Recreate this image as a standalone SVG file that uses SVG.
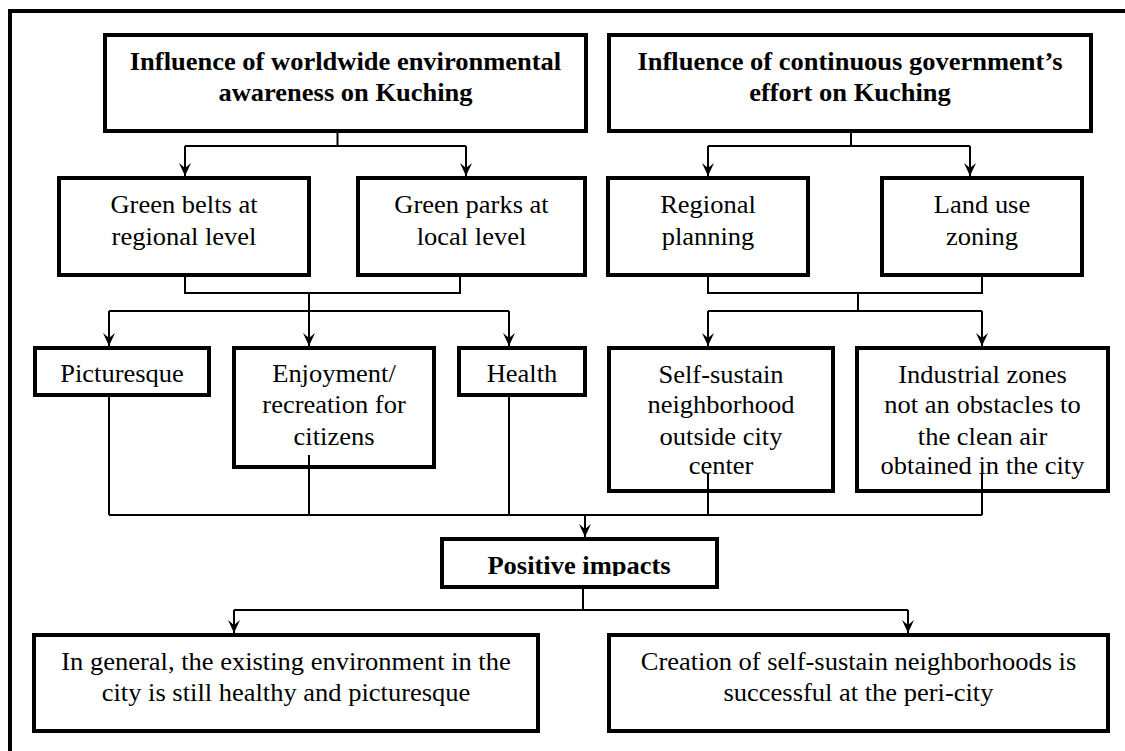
<svg xmlns="http://www.w3.org/2000/svg" width="1125" height="751" viewBox="0 0 1125 751">
<style>
.box{fill:#fff;stroke:#000;stroke-width:4}
.t{font-size:25px;fill:#000;text-anchor:middle}
.b{font-weight:bold}
.c{fill:none;stroke:#000;stroke-width:2}
.a{fill:none;stroke:#000;stroke-width:2;marker-end:url(#arr)}
</style>
<defs>
<marker id="arr" markerUnits="userSpaceOnUse" viewBox="-14 -7 14 14" refX="0" refY="0" markerWidth="14" markerHeight="14" orient="auto">
<path d="M0,0 L-13,-6 L-8,0 L-13,6 Z" fill="#000"/>
</marker>
<clipPath id="pclip"><rect x="442" y="539" width="275" height="37"/></clipPath>
</defs>
<rect x="0" y="0" width="1125" height="751" fill="#fff"/>
<path d="M10,751 V11 H1125" fill="none" stroke="#000" stroke-width="4"/>
<g font-family="Liberation Serif">
<g id="n-worldwide">
<rect class="box" x="105" y="35" width="481" height="96"/>
<text class="t b" font-family="Liberation Serif" transform="translate(345.5 0) scale(1.06 1)"><tspan x="0" y="70">Influence of worldwide environmental</tspan><tspan x="0" y="101">awareness on Kuching</tspan></text>
</g>
<g id="n-government">
<rect class="box" x="609" y="35" width="482" height="96"/>
<text class="t b" font-family="Liberation Serif" transform="translate(850 0) scale(1.06 1)"><tspan x="0" y="70">Influence of continuous government’s</tspan><tspan x="0" y="101">effort on Kuching</tspan></text>
</g>
<g id="n-greenbelts">
<rect class="box" x="59" y="178" width="250" height="97"/>
<text class="t" font-family="Liberation Serif" transform="translate(184 0) scale(1.06 1)"><tspan x="0" y="213">Green belts at</tspan><tspan x="0" y="245">regional level</tspan></text>
</g>
<g id="n-greenparks">
<rect class="box" x="358" y="178" width="227" height="97"/>
<text class="t" font-family="Liberation Serif" transform="translate(471.5 0) scale(1.06 1)"><tspan x="0" y="213">Green parks at</tspan><tspan x="0" y="245">local level</tspan></text>
</g>
<g id="n-regional">
<rect class="box" x="608" y="178" width="200" height="97"/>
<text class="t" font-family="Liberation Serif" transform="translate(708 0) scale(1.06 1)"><tspan x="0" y="213">Regional</tspan><tspan x="0" y="245">planning</tspan></text>
</g>
<g id="n-landuse">
<rect class="box" x="882" y="178" width="200" height="97"/>
<text class="t" font-family="Liberation Serif" transform="translate(982 0) scale(1.06 1)"><tspan x="0" y="213">Land use</tspan><tspan x="0" y="245">zoning</tspan></text>
</g>
<g id="n-picturesque">
<rect class="box" x="35" y="348" width="174" height="47"/>
<text class="t" font-family="Liberation Serif" transform="translate(122 0) scale(1.06 1)" x="0" y="382">Picturesque</text>
</g>
<g id="n-enjoyment">
<rect class="box" x="234" y="348" width="200" height="119"/>
<text class="t" font-family="Liberation Serif" transform="translate(334 0) scale(1.06 1)"><tspan x="0" y="382">Enjoyment/</tspan><tspan x="0" y="413">recreation for</tspan><tspan x="0" y="445">citizens</tspan></text>
</g>
<g id="n-health">
<rect class="box" x="459" y="348" width="126" height="47"/>
<text class="t" font-family="Liberation Serif" transform="translate(522 0) scale(1.06 1)" x="0" y="382">Health</text>
</g>
<g id="n-selfsustain">
<rect class="box" x="609" y="348" width="224" height="143"/>
<text class="t" font-family="Liberation Serif" transform="translate(721 0) scale(1.06 1)"><tspan x="0" y="383">Self-sustain</tspan><tspan x="0" y="413">neighborhood</tspan><tspan x="0" y="445">outside city</tspan><tspan x="0" y="474">center</tspan></text>
</g>
<g id="n-industrial">
<rect class="box" x="857" y="348" width="251" height="143"/>
<text class="t" font-family="Liberation Serif" transform="translate(982.5 0) scale(1.06 1)"><tspan x="0" y="383">Industrial zones</tspan><tspan x="0" y="413">not an obstacles to</tspan><tspan x="0" y="445">the clean air</tspan><tspan x="0" y="474">obtained in the city</tspan></text>
</g>
<g id="n-positive">
<rect class="box" x="442" y="539" width="275" height="48"/>
<g clip-path="url(#pclip)"><text class="t b" font-family="Liberation Serif" transform="translate(579 0) scale(1.06 1)" x="0" y="574">Positive impacts</text></g>
</g>
<g id="n-general">
<rect class="box" x="34" y="635" width="504" height="96"/>
<text class="t" font-family="Liberation Serif" transform="translate(286 0) scale(1.06 1)"><tspan x="0" y="670">In general, the existing environment in the</tspan><tspan x="0" y="701">city is still healthy and picturesque</tspan></text>
</g>
<g id="n-creation">
<rect class="box" x="609" y="635" width="499" height="96"/>
<text class="t" font-family="Liberation Serif" transform="translate(858.5 0) scale(1.06 1)"><tspan x="0" y="670">Creation of self-sustain neighborhoods is</tspan><tspan x="0" y="701">successful at the peri-city</tspan></text>
</g>
</g>
<g id="connectors">
<path class="c" d="M337.5,133 V146 M185,146 H466"/>
<path class="a" d="M185,146 V176"/>
<path class="a" d="M466,146 V176"/>
<path class="c" d="M851,133 V146 M708,146 H970"/>
<path class="a" d="M708,146 V176"/>
<path class="a" d="M970,146 V176"/>
<path class="c" d="M185,277 V293 H460 V277 M109,311 H509"/>
<path class="a" d="M309,293 V346"/>
<path class="a" d="M109,311 V346"/>
<path class="a" d="M509,311 V346"/>
<path class="c" d="M708,277 V293 H982 V277 M858,293 V311 M708,311 H982"/>
<path class="a" d="M708,311 V346"/>
<path class="a" d="M982,311 V346"/>
<path class="c" d="M109,397 V515 M309,455 V515 M509,397 V515 M708,473 V515 M982,473 V515 M109,515 H982"/>
<path class="a" d="M585,515 V537"/>
<path class="c" d="M583,589 V610 M234,610 H908"/>
<path class="a" d="M234,610 V633"/>
<path class="a" d="M908,610 V633"/>
</g>
</svg>
